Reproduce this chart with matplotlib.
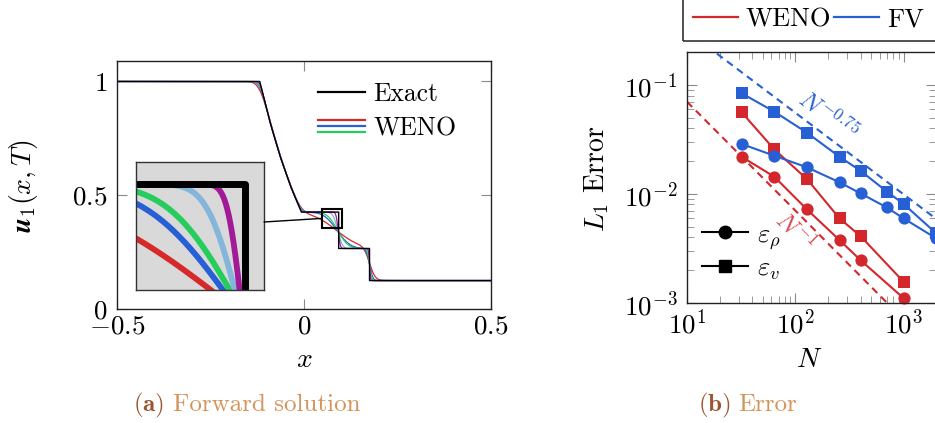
import math
import numpy as np
import matplotlib
matplotlib.use("Agg")
import matplotlib.pyplot as plt
from matplotlib.lines import Line2D
from matplotlib.patches import Rectangle, ConnectionPatch
from matplotlib.legend_handler import HandlerBase
from matplotlib.ticker import FuncFormatter, NullFormatter, LogLocator

plt.rcParams['mathtext.fontset'] = 'cm'
plt.rcParams['font.family'] = 'serif'
plt.rcParams['font.serif'] = ['cmr10']
plt.rcParams['axes.unicode_minus'] = False
plt.rcParams['axes.formatter.use_mathtext'] = True

# ---- forward solution: exact profile (rarefaction nodes, contact, shock)
u_left = 1.0
raref_x = [-0.1183, -0.090, -0.063, -0.035, -0.0070]
raref_u = [1.0, 0.816, 0.667, 0.536, 0.426]
x_contact = 0.0927
u_contact = 0.266
x_shock = 0.1752
u_right = 0.125

# WENO runs, coarse -> fine: smearing widths of each wave
weno_colors = ['#d62a2a', '#2660d4', '#26cc5c', '#84b5da', '#a31a98']
sig_raref = [0.015, 0.010, 0.008, 0.006, 0.004]
sig_contact = [0.050, 0.028, 0.022, 0.010, 0.0045]
lag_contact = [-0.006, -0.0045, -0.0027, -0.0025, -0.0014]
sig_shock = [0.012, 0.007, 0.005, 0.003, 0.002]

# zoom window
zoom_x = [0.0488, 0.1004]
zoom_y = [0.3558, 0.4408]

# ---- convergence data
N_weno = [32, 64, 128, 256, 400, 1000]
weno_rho = [0.0219, 0.01436, 0.0072, 0.00376, 0.00246, 0.0011]
weno_v = [0.0561, 0.0256, 0.01368, 0.00595, 0.00409, 0.001556]
N_fv = [32, 64, 128, 256, 400, 700, 1000, 2000]
fv_rho = [0.0287, 0.0224, 0.01754, 0.01277, 0.0101, 0.0075, 0.00595, 0.0039]
fv_v = [0.0839, 0.0569, 0.0365, 0.0219, 0.0163, 0.0105, 0.00807, 0.00434]
ref_N = [10, 2000]
ref_c_weno, ref_p_weno = 0.702, 1.0
ref_c_fv, ref_p_fv = 1.76, 0.75

RED = '#d3272b'
BLUE = '#2660d4'
TICK = '#8a8a8a'

erf = np.vectorize(math.erf)


def Phi(z):
    return 0.5 * (1.0 + erf(z / math.sqrt(2.0)))


def soft_relu(z, s):
    return z * Phi(z / s) + s * np.exp(-0.5 * (z / s) ** 2) / math.sqrt(2 * math.pi)


def smeared(x, sr, sc, dc, ss):
    u = np.full_like(x, u_left)
    slopes = np.diff(raref_u) / np.diff(raref_x)
    dslope = np.diff(np.concatenate([[0.0], slopes, [0.0]]))
    for xk, ds in zip(raref_x, dslope):
        u += ds * soft_relu(x - xk, sr)
    u += (u_contact - raref_u[-1]) * Phi((x - x_contact - dc) / sc)
    u += (u_right - u_contact) * Phi((x - x_shock) / ss)
    return u


class StackedLines(HandlerBase):
    def __init__(self, colors, gap):
        super().__init__()
        self.colors = colors
        self.gap = gap

    def create_artists(self, legend, orig_handle, xdescent, ydescent,
                       width, height, fontsize, trans):
        mid = height / 2 - ydescent
        out = []
        for i, c in enumerate(self.colors):
            y = mid + (1 - i) * self.gap
            ln = Line2D([-xdescent, width - xdescent], [y, y], color=c, lw=1.6)
            ln.set_transform(trans)
            out.append(ln)
        return out


def style_ticks(ax):
    ax.tick_params(which='both', direction='in', top=True, right=True,
                   color=TICK, labelsize=19.5)
    ax.tick_params(which='major', length=7.5, width=0.8)
    ax.tick_params(which='minor', length=5, width=0.6)
    for sp in ax.spines.values():
        sp.set_linewidth(1.0)
        sp.set_color('#222222')


fig = plt.figure(figsize=(9.35, 4.23), dpi=100)
W, H = 935.0, 423.0

# ------------------------------------------------------------ (a)
ax = fig.add_axes([117 / W, 1 - 309 / H, 374 / W, 248 / H])
xg = np.linspace(-0.5, 0.5, 8001)
curves = [smeared(xg, sig_raref[i], sig_contact[i], lag_contact[i], sig_shock[i])
          for i in range(len(weno_colors))]
ex_x = [-0.5] + raref_x + [x_contact, x_contact, x_shock, x_shock, 0.5]
ex_u = [u_left] + raref_u + [raref_u[-1], u_contact, u_contact, u_right, u_right]

for c, u in zip(weno_colors, curves):
    ax.plot(xg, u, color=c, lw=0.9)
ax.plot(ex_x, ex_u, color='black', lw=1.0)

ax.set_xlim(-0.5, 0.5)
ax.set_ylim(0, 1.09)
ax.set_xticks([-0.5, 0, 0.5])
ax.set_xticklabels([r'$-0.5$', r'$0$', r'$0.5$'])
ax.set_yticks([0, 0.5, 1])
ax.set_yticklabels([r'$0$', r'$0.5$', r'$1$'])
style_ticks(ax)
ax.tick_params(axis='x', pad=4)
ax.tick_params(axis='y', pad=7)

ax.add_patch(Rectangle((zoom_x[0], zoom_y[0]), zoom_x[1] - zoom_x[0],
                       zoom_y[1] - zoom_y[0], fill=False, ec='black', lw=1.5, zorder=5))

leg_handles = [Line2D([], [], color='black', lw=1.6), Line2D([], [])]
ax.legend(leg_handles, ['Exact', 'WENO'], loc='upper left',
          bbox_to_anchor=(0.537, 0.915), frameon=False, fontsize=18.5,
          borderpad=0, borderaxespad=0, handlelength=1.85, handletextpad=0.3,
          labelspacing=0.42,
          handler_map={leg_handles[1]: StackedLines(weno_colors[:3], 4.4)})

# magnified view
axi = fig.add_axes([135.7 / W, 1 - 290 / H, 128.3 / W, 128.3 / H])
axi.set_facecolor('#d9d9d9')
for c, u in zip(weno_colors, curves):
    axi.plot(xg, u, color=c, lw=4.2)
axi.plot(ex_x, ex_u, color='black', lw=5.0)
axi.set_xlim(zoom_x)
axi.set_ylim(zoom_y)
axi.set_xticks([])
axi.set_yticks([])
for sp in axi.spines.values():
    sp.set_color('#333333')
    sp.set_linewidth(1.0)

con = ConnectionPatch(xyA=(1.0, 0.53), coordsA='axes fraction', axesA=axi,
                      xyB=(zoom_x[0], 0.5 * (zoom_y[0] + zoom_y[1])),
                      coordsB='data', axesB=ax, color='black', lw=1.0)
fig.add_artist(con)

fig.text(24 / W, 1 - 186 / H, r'$\boldsymbol{u}_1(x,T)$', rotation=90,
         ha='center', va='center', fontsize=20)
fig.text(304 / W, 1 - 360 / H, r'$x$', ha='center', va='center', fontsize=20)

# ------------------------------------------------------------ (b)
bx = fig.add_axes([687 / W, 1 - 302.7 / H, 249.2 / W, 251 / H])
bx.set_xscale('log')
bx.set_yscale('log')

ref_N = np.array(ref_N, dtype=float)
bx.plot(ref_N, ref_c_weno * ref_N ** -ref_p_weno, color=RED, lw=1.5,
        ls=(0, (3.5, 2.5)))
bx.plot(ref_N, ref_c_fv * ref_N ** -ref_p_fv, color=BLUE, lw=1.5,
        ls=(0, (3.5, 2.5)))

mk = dict(ms=8.8, mew=0, lw=1.5, clip_on=False)
bx.plot(N_weno, weno_rho, color=RED, marker='o', **mk)
bx.plot(N_weno, weno_v, color=RED, marker='s', **mk)
bx.plot(N_fv, fv_rho, color=BLUE, marker='o', **mk)
bx.plot(N_fv, fv_v, color=BLUE, marker='s', **mk)

bx.set_xlim(10, 2000)
bx.set_ylim(1e-3, 0.2023)
bx.xaxis.set_major_locator(LogLocator(base=10, numticks=10))
bx.yaxis.set_major_locator(LogLocator(base=10, numticks=10))
bx.xaxis.set_minor_locator(LogLocator(base=10, subs=np.arange(2, 10), numticks=20))
bx.yaxis.set_minor_locator(LogLocator(base=10, subs=np.arange(2, 10), numticks=20))
dec = FuncFormatter(lambda v, p: r'$10^{%d}$' % round(math.log10(v)))
bx.xaxis.set_major_formatter(dec)
bx.yaxis.set_major_formatter(dec)
bx.xaxis.set_minor_formatter(NullFormatter())
bx.yaxis.set_minor_formatter(NullFormatter())
style_ticks(bx)
bx.tick_params(axis='x', pad=4)
bx.tick_params(axis='y', pad=7)

bx.text(200, 0.052, r'$N^{-0.75}$', color=BLUE, fontsize=17.5, rotation=-37,
        ha='center', va='center', rotation_mode='anchor')
bx.text(99, 0.00445, r'$N^{-1}$', color=RED, fontsize=17.5, rotation=-45,
        ha='center', va='center', rotation_mode='anchor', alpha=0.85)

mh = [Line2D([], [], color='black', marker='o', ms=9, lw=1.5),
      Line2D([], [], color='black', marker='s', ms=9, lw=1.5)]
bx.legend(mh, [r'$\varepsilon_\rho$', r'$\varepsilon_v$'], loc='upper left',
          bbox_to_anchor=(0.06, 0.32), frameon=False, fontsize=19,
          borderpad=0, borderaxespad=0, handlelength=1.75, handletextpad=0.35,
          labelspacing=0.22)

fig.text(597 / W, 1 - 179 / H, r'$L_1$ Error', rotation=90, ha='center',
         va='center', fontsize=20)
fig.text(809 / W, 1 - 360 / H, r'$N$', ha='center', va='center', fontsize=20)

# method legend above the panel
top_handles = [Line2D([], [], color=RED, lw=1.6), Line2D([], [], color=BLUE, lw=1.6)]
fig.legend(top_handles, ['WENO', 'FV'], ncol=2, loc='center left',
           bbox_to_anchor=(693 / W, 1 - 19.5 / H), frameon=False, fontsize=19,
           borderpad=0, borderaxespad=0, handlelength=1.7, handletextpad=0.3,
           columnspacing=0.12)
fig.add_artist(Rectangle((683 / W, 1 - 41 / H), 0.4, 0.3, transform=fig.transFigure,
                         fill=False, ec='#333333', lw=1.2))

# captions
CAP_A = '#9b5430'
CAP_T = '#d4935a'
fig.text(133 / W, 1 - 405 / H, r'$\mathbf{(a)}$', color=CAP_A, ha='left',
         va='center', fontsize=18)
fig.text(173 / W, 1 - 405 / H, 'Forward solution', color=CAP_T, ha='left',
         va='center', fontsize=18)
fig.text(698 / W, 1 - 405 / H, r'$\mathbf{(b)}$', color=CAP_A, ha='left',
         va='center', fontsize=18)
fig.text(738 / W, 1 - 405 / H, 'Error', color=CAP_T, ha='left',
         va='center', fontsize=18)

fig.savefig('out.png', dpi=100)
